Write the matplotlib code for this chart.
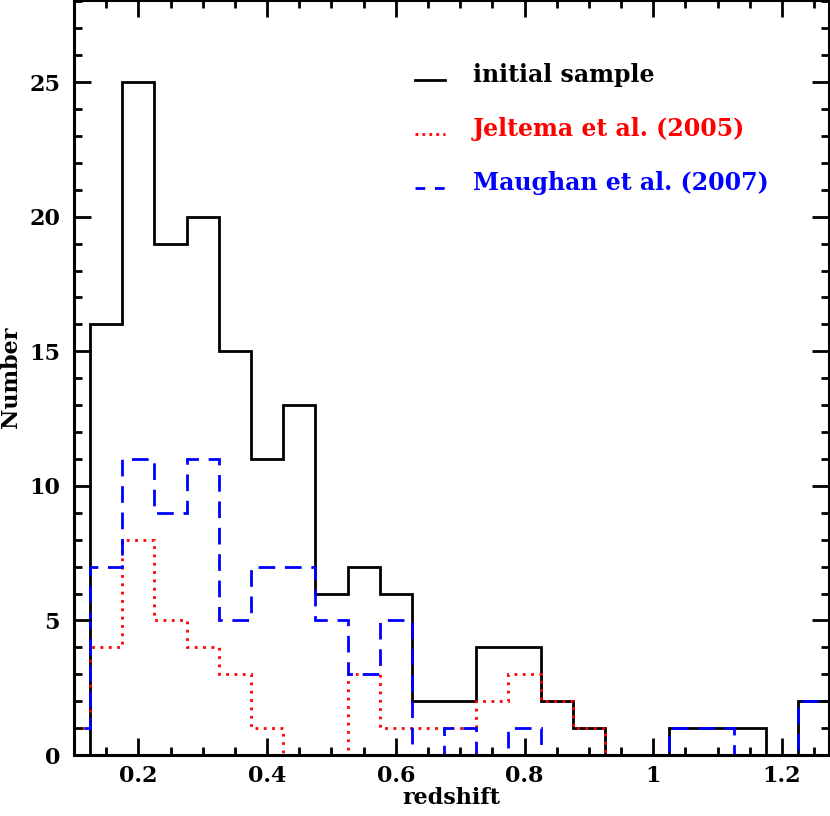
import numpy as np
import matplotlib.pyplot as plt
from matplotlib.ticker import MultipleLocator

# bin edges of the redshift histograms (width 0.05)
edges = np.arange(0.075, 1.2751, 0.05)

initial = [0, 16, 25, 19, 20, 15, 11, 13, 6, 7, 6, 2, 2, 4, 4, 2, 1, 0, 0, 1, 1, 1, 0, 2]
jeltema = [1, 4, 8, 5, 4, 3, 1, 0, 0, 3, 1, 1, 1, 2, 3, 2, 1, 0, 0, 0, 0, 0, 0, 0]
maughan = [1, 7, 11, 9, 11, 5, 7, 7, 5, 3, 5, 0, 1, 0, 1, 0, 0, 0, 0, 1, 1, 0, 0, 2]

labels = ['initial sample', 'Jeltema et al. (2005)', 'Maughan et al. (2007)']
colors = ['black', 'red', 'blue']

plt.rcParams['font.family'] = 'DejaVu Serif'
plt.rcParams['font.weight'] = 'bold'

fig = plt.figure(figsize=(8.3, 8.16), dpi=100)
ax = fig.add_axes([74 / 830, 61 / 816, 755 / 830, 755 / 816])

ax.stairs(initial, edges, color='black', lw=2)
ax.stairs(jeltema, edges, color='red', lw=2, linestyle=(0, (1, 2)))
ax.stairs(maughan, edges, color='blue', lw=2, linestyle=(0, (6, 3.5)))

ax.set_xlim(0.1, 1.273)
ax.set_ylim(0, 28.05)

ax.xaxis.set_major_locator(MultipleLocator(0.2))
ax.xaxis.set_minor_locator(MultipleLocator(0.05))
ax.yaxis.set_major_locator(MultipleLocator(5))
ax.yaxis.set_minor_locator(MultipleLocator(1))
ax.tick_params(which='both', direction='in', top=True, right=True, width=2, labelsize=16)
ax.tick_params(which='major', length=12)
ax.tick_params(axis='x', which='major', pad=7)
ax.tick_params(axis='y', which='major', pad=10)
ax.tick_params(which='minor', length=6)
ax.set_xticks([0.2, 0.4, 0.6, 0.8, 1.0, 1.2])
ax.set_xticklabels(['0.2', '0.4', '0.6', '0.8', '1', '1.2'])
for s in ax.spines.values():
    s.set_linewidth(2.2)

ax.set_xlabel('redshift', fontsize=16, fontweight='bold', va='center')
ax.xaxis.set_label_coords(0.5, -0.057)
ax.set_ylabel('Number', fontsize=16, fontweight='bold', va='center')
ax.yaxis.set_label_coords(-0.084, 0.5)

# hand-made legend
styles = ['-', (0, (1, 1.5)), (0, (3.5, 3.5))]
ys = [0.9007, 0.829, 0.7576]
for lab, c, ls, y in zip(labels, colors, styles, ys):
    ax.plot([0.4517, 0.4914], [y - 0.006, y - 0.006], transform=ax.transAxes,
            color=c, lw=2, linestyle=ls)
    ax.text(0.5285, y, lab, transform=ax.transAxes, color=c,
            fontsize=17, fontweight='bold', va='center', ha='left')

fig.savefig('out.png', dpi=100)
